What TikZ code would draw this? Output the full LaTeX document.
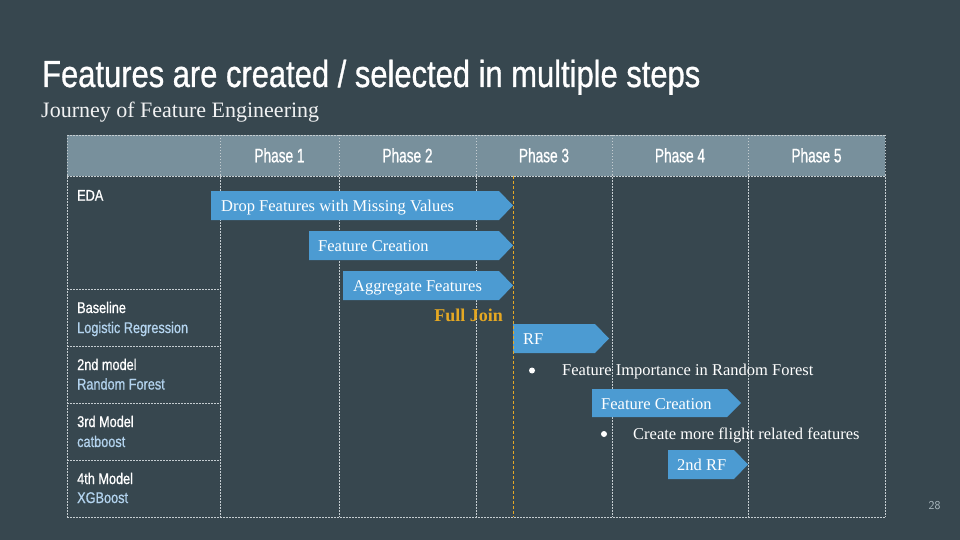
\documentclass[tikz,border=0pt]{standalone}
\usepackage{fontspec}
\setmainfont{Liberation Serif}
\newfontfamily\narrowfont[FakeStretch=0.82,FakeBold=0.8]{Liberation Sans}
\newfontfamily\phasefont[FakeStretch=0.70,FakeBold=0.8]{Liberation Sans}
\definecolor{slidebg}{HTML}{37474F}
\definecolor{headfill}{HTML}{78909C}
\definecolor{barblue}{HTML}{4C9BD2}
\definecolor{gridgray}{HTML}{C5CDD1}
\definecolor{joinorange}{HTML}{E5A823}
\definecolor{modelblue}{HTML}{B3D3EE}
\definecolor{pagegray}{HTML}{B0BEC5}
\begin{document}
\begin{tikzpicture}[x=1pt,y=-1pt,
    gridline/.style={gridgray,line width=0.7pt,dash pattern=on 1.5pt off 1.5pt},
    joinline/.style={joinorange,line width=0.9pt,dash pattern=on 3pt off 2pt},
    bar/.style={barblue},
    barlabel/.style={anchor=base west,inner sep=0pt,text=white,font=\fontsize{16.5}{20}\selectfont},
    rowlabel/.style={anchor=base west,inner sep=0pt,text=white,font=\narrowfont\fontsize{15.5}{20}\selectfont},
    rowsub/.style={rowlabel,text=modelblue},
    phaselabel/.style={anchor=base,inner sep=0pt,text=white,font=\phasefont\fontsize{19.5}{22}\selectfont}]
        \useasboundingbox (0,0) rectangle (960,540);
        \fill [slidebg] (0,0) rectangle (960,540);%

        % Title and subtitle
        \node (title) [anchor=base west,inner sep=0pt,text=white,font=\narrowfont\fontsize{37.7}{44}\selectfont] at (42,87) {Features are created / selected in multiple steps};%
        \node (subtitle) [anchor=base west,inner sep=0pt,text=white!93!slidebg,font=\fontsize{22}{26}\selectfont] at (41,118) {Journey of Feature Engineering};%

        % Header row
        \fill [headfill] (67,135) rectangle (885,176);%
        \node (phase1) [phaselabel] at (279.5,162.3) {Phase 1};%
        \node (phase2) [phaselabel] at (407.5,162.3) {Phase 2};%
        \node (phase3) [phaselabel] at (544,162.3) {Phase 3};%
        \node (phase4) [phaselabel] at (680,162.3) {Phase 4};%
        \node (phase5) [phaselabel] at (816.5,162.3) {Phase 5};%

        % Drawing grid
        \draw [gridline] (67,135) -- (885,135);%
        \draw [gridline] (67,176) -- (885,176);%
        \draw [gridline] (67,517) -- (885,517);%
        \foreach \gx in {67,220,339,476,612,748,885}
            \draw [gridline] (\gx,135) -- (\gx,517);%
        \foreach \gy in {289,346,403,460}
            \draw [gridline] (67,\gy) -- (220,\gy);%

        % Row labels
        \node (eda) [rowlabel] at (77,200.7) {EDA};%
        \node (base) [rowlabel] at (77,313) {Baseline};%
        \node (logreg) [rowsub] at (77,333) {Logistic Regression};%
        \node (second) [rowlabel] at (77,370) {2nd model};%
        \node (rforest) [rowsub] at (77,389.5) {Random Forest};%
        \node (third) [rowlabel] at (77,427) {3rd Model};%
        \node (catb) [rowsub] at (77,447) {catboost};%
        \node (fourth) [rowlabel] at (77,484) {4th Model};%
        \node (xgb) [rowsub] at (77,503) {XGBoost};%

        % Drawing bar Drop Features
        \fill [bar] (211,191) -- (499,191) -- (513,205.5) -- (499,220) -- (211,220) -- cycle;%
        \node (drop) [barlabel] at (221,211.5) {Drop Features with Missing Values};%

        % Drawing bar Feature Creation
        \fill [bar] (309,231) -- (499,231) -- (513,245.5) -- (499,260) -- (309,260) -- cycle;%
        \node (create) [barlabel] at (318,251.7) {Feature Creation};%

        % Drawing bar Aggregate Features
        \fill [bar] (343,271) -- (499,271) -- (513,285.5) -- (499,300) -- (343,300) -- cycle;%
        \node (aggr) [barlabel] at (353,291.7) {Aggregate Features};%

        % Full Join
        \node (join) [anchor=base east,inner sep=0pt,text=joinorange,font=\bfseries\fontsize{18}{22}\selectfont] at (503,321.5) {Full Join};%

        % Drawing bar RF
        \fill [bar] (513,324) -- (595,324) -- (609,338.5) -- (595,353) -- (513,353) -- cycle;%
        \node (rf) [barlabel] at (523,344) {RF};%
        \fill [white] (532,370.5) circle (3);%
        \node (importance) [barlabel] at (562,375.5) {Feature Importance in Random Forest};%

        % Drawing bar Feature Creation (second)
        \fill [bar] (592,389) -- (727,389) -- (741,403) -- (727,417) -- (592,417) -- cycle;%
        \node (create2) [barlabel] at (601,409) {Feature Creation};%
        \fill [white] (604,434) circle (3);%
        \node (flight) [barlabel] at (633,439) {Create more flight related features};%

        % Drawing bar 2nd RF
        \fill [bar] (668,450) -- (734,450) -- (748,464.5) -- (734,479) -- (668,479) -- cycle;%
        \node (rf2) [barlabel] at (677,470.7) {2nd RF};%

        % Full join line
        \draw [joinline] (513,176) -- (513,517);%

        % Page number
        \node (pagenum) [anchor=base,inner sep=0pt,text=pagegray,font=\fontsize{12}{14}\selectfont\sffamily] at (934.5,509.3) {28};%
    \end{tikzpicture}
\end{document}
